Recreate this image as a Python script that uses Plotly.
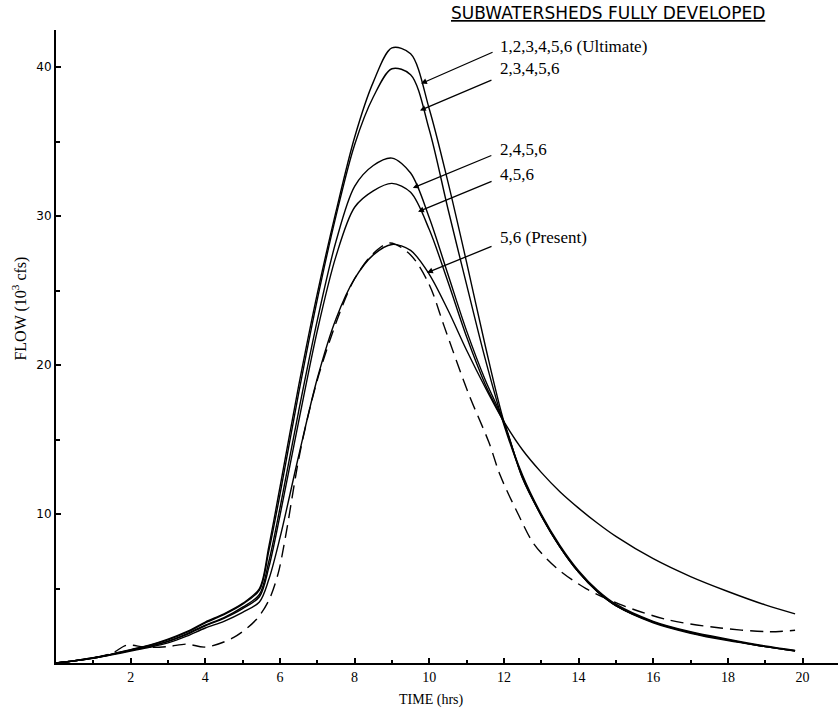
import plotly.graph_objects as go

# ---- data (time in hrs, flow in 10^3 cfs) ----
t_main = [0, 0.5, 1, 1.5, 2, 2.5, 3, 3.5, 4, 4.5, 5, 5.45, 5.7, 6, 6.5, 7, 7.5, 8, 8.5, 9,
          9.5, 10, 10.5, 11, 11.5, 12, 12.5, 13, 13.5, 14, 14.5, 15, 16, 17, 18, 19, 19.8]

q_ultimate = [0, 0.15, 0.35, 0.6, 0.9, 1.2, 1.6, 2.1, 2.75, 3.3, 4.0, 5.0, 7.8, 11.8, 18.6, 24.8,
              30.3, 35.3, 39.0, 41.3, 40.9, 37.2, 32.3, 26.9, 21.3, 16.2, 12.6, 10.0, 7.9, 6.2,
              4.9, 3.95, 2.8, 2.1, 1.6, 1.15, 0.85]
q_23456 = [0, 0.15, 0.35, 0.6, 0.88, 1.18, 1.55, 2.05, 2.7, 3.25, 3.95, 4.9, 7.5, 11.3, 18.1, 24.4,
           30.0, 34.8, 38.0, 39.9, 39.5, 35.8, 30.5, 25.4, 20.4, 16.0, 12.5, 9.9, 7.8, 6.1,
           4.8, 3.85, 2.7, 2.0, 1.5, 1.1, 0.8]
q_2456 = [0, 0.15, 0.33, 0.58, 0.85, 1.12, 1.45, 1.95, 2.55, 3.05, 3.75, 4.6, 6.8, 10.4, 16.9, 23.0,
          28.3, 32.0, 33.4, 33.9, 32.9, 29.9, 26.1, 22.3, 19.0, 16.2, 12.4, 9.9, 7.8, 6.1,
          4.8, 3.85, 2.75, 2.05, 1.55, 1.1, 0.82]
q_456 = [0, 0.15, 0.33, 0.58, 0.85, 1.12, 1.45, 1.9, 2.5, 3.0, 3.65, 4.45, 6.4, 9.9, 16.2, 22.3,
         27.3, 30.6, 31.7, 32.2, 31.6, 29.1, 25.6, 21.9, 18.7, 16.1, 12.4, 9.9, 7.8, 6.1,
         4.8, 3.85, 2.75, 2.05, 1.55, 1.1, 0.82]
q_present = [0, 0.14, 0.32, 0.55, 0.8, 1.05, 1.35, 1.8, 2.35, 2.8, 3.4, 4.1, 5.6, 8.4, 13.9, 19.1,
             23.1, 25.8, 27.4, 28.1, 27.7, 26.1, 23.7, 21.0, 18.5, 16.2, 14.3, 12.8, 11.5, 10.4,
             9.4, 8.5, 7.0, 5.8, 4.8, 3.9, 3.3]

t_dashed = [0, 0.5, 1, 1.5, 1.9, 2.4, 3, 3.5, 4, 4.75, 5.36, 5.7, 5.95, 6.15, 6.55, 7, 7.6, 8, 8.5,
            8.95, 9.5, 10, 10.4, 11.05, 11.6, 11.9, 12.4, 12.8, 13.4, 14.2, 15.2, 16.4, 17.8, 19.1, 19.8]
q_dashed = [0, 0.15, 0.35, 0.65, 1.2, 1.05, 1.1, 1.27, 1.07, 1.7, 2.9, 4.2, 6.0, 8.5, 14.3, 19.0,
            23.5, 25.8, 27.5, 28.2, 27.4, 25.4, 22.6, 18.1, 14.8, 12.6, 9.9, 8.0, 6.4, 5.0, 3.85,
            2.9, 2.35, 2.1, 2.2]

x_ticks = [2, 4, 6, 8, 10, 12, 14, 16, 18, 20]
y_ticks = [10, 20, 30, 40]

labels = ["1,2,3,4,5,6 (Ultimate)", "2,3,4,5,6", "2,4,5,6", "4,5,6", "5,6 (Present)"]

fig = go.Figure()
line = dict(color="black", width=1.4, shape="spline", smoothing=0.9)
for q in [q_ultimate, q_23456, q_2456, q_456, q_present]:
    fig.add_trace(go.Scatter(x=t_main, y=q, mode="lines", line=line, hoverinfo="skip"))
fig.add_trace(go.Scatter(x=t_dashed, y=q_dashed, mode="lines",
                         line=dict(color="black", width=1.4, dash="13px,7px", shape="spline", smoothing=0.9),
                         hoverinfo="skip"))

# arrow heads (data coords) and tail offsets (px)
heads = [(9.78, 38.9, 73, -32), (9.75, 37.1, 73, -31), (9.56, 31.9, 80, -33),
         (9.70, 30.3, 75, -31), (9.94, 26.2, 66, -27)]
label_y = [41.4, 39.9, 34.5, 32.8, 28.6]
ann = []
for (hx, hy, ax, ay), lab, ly in zip(heads, labels, label_y):
    ann.append(dict(x=hx, y=hy, ax=ax, ay=ay, xref="x", yref="y", text="", showarrow=True,
                    arrowhead=2, arrowsize=0.9, arrowwidth=1.3, arrowcolor="black", standoff=0))
    ann.append(dict(x=11.84, y=ly, xref="x", yref="y", text=lab, showarrow=False, xanchor="left",
                    yanchor="middle", font=dict(family="Liberation Serif", size=17, color="black")))

ann.append(dict(x=0.706, y=1.0, xref="paper", yref="paper", yshift=5,
                text="<u>SUBWATERSHEDS FULLY DEVELOPED</u>", showarrow=False,
                xanchor="center", yanchor="bottom",
                font=dict(family="DejaVu Sans", size=17, color="black")))
ann.append(dict(x=-0.046, y=0.56, xref="paper", yref="paper", text="FLOW (10<sup>3</sup> cfs)",
                textangle=-90, showarrow=False, xanchor="center", yanchor="middle",
                font=dict(family="Liberation Serif", size=16, color="black")))
ann.append(dict(x=0.48, y=-0.058, xref="paper", yref="paper", text="TIME (hrs)",
                showarrow=False, xanchor="center", yanchor="middle",
                font=dict(family="Liberation Serif", size=14, color="black")))

fig.update_layout(
    width=838, height=710,
    margin=dict(l=56, r=0, t=30, b=47),
    plot_bgcolor="white", paper_bgcolor="white",
    showlegend=False,
    annotations=ann,
    xaxis=dict(range=[0, 20.95], tickvals=x_ticks, ticks="inside", ticklen=5, tickwidth=1.5,
               tickcolor="black", showline=True, linewidth=2, linecolor="black",
               showgrid=False, zeroline=False,
               tickfont=dict(family="Liberation Serif", size=14, color="black"),
               minor=dict(tickvals=[1, 3, 5, 7, 9, 11, 13, 15, 17, 19], ticks="inside",
                          ticklen=3, tickcolor="black", showgrid=False)),
    yaxis=dict(range=[0, 42.5], tickvals=y_ticks, ticks="inside", ticklen=5, tickwidth=1.5,
               tickcolor="black", showline=True, linewidth=2, linecolor="black",
               showgrid=False, zeroline=False,
               tickfont=dict(family="DejaVu Sans", size=12, color="black"),
               minor=dict(tickvals=[5, 15, 25, 35], ticks="inside", ticklen=4,
                          tickcolor="black", showgrid=False)),
)

fig.write_html("out.html", config={"displayModeBar": False},
               post_script="document.body.style.margin='0px';")
